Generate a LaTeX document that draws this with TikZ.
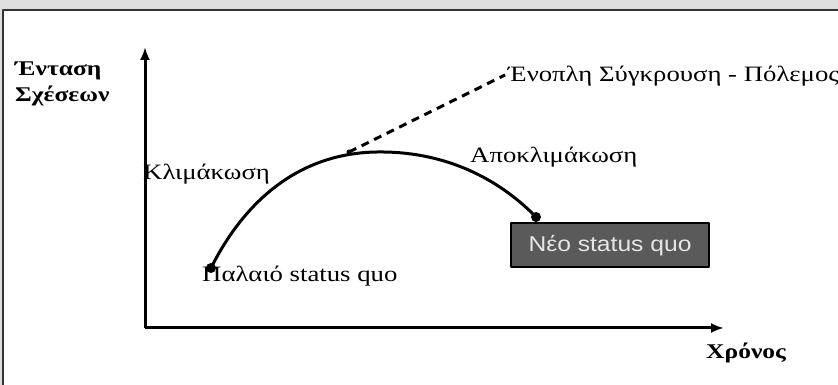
\documentclass[tikz,border=0pt]{standalone}
\usepackage{fontspec}
\usetikzlibrary{arrows.meta}
\setmainfont{Liberation Serif}[FakeStretch=1.22]
\newfontfamily\boxfont{Liberation Sans}[FakeStretch=1.15]
\definecolor{framegray}{HTML}{DEDEDE}
\definecolor{boxgray}{HTML}{5A5A5A}
\definecolor{boxtext}{HTML}{E6E6E6}
\begin{document}
\begin{tikzpicture}[>={Latex[length=13bp,width=10bp]},line join=bevel,font=\fontsize{22}{26}\selectfont]
%%
\fill [framegray] (0bp,0bp) rectangle (838bp,385bp);
\useasboundingbox (0bp,0bp) rectangle (838bp,385bp);
\filldraw [fill=white,draw=black!80,line width=2bp] (2.5bp,-20bp) -- (2.5bp,374.5bp) -- (850bp,374.5bp);
\fill [white] (3.5bp,-20bp) rectangle (850bp,373.5bp);
  \coordinate (origin) at (145bp,57bp);
  \coordinate (y_end) at (145bp,338bp);
  \coordinate (x_end) at (724bp,57bp);
  \coordinate (old_sq) at (211bp,117bp);
  \coordinate (branch) at (349bp,233bp);
  \coordinate (peak) at (377bp,233bp);
  \coordinate (new_sq) at (536bp,168bp);
  \coordinate (war_end) at (505bp,310bp);
  \node (node_tension) at (15bp,323bp) [anchor=north west,inner sep=0pt,align=left,font=\fontsize{21}{26}\selectfont\bfseries] {Ένταση\\Σχέσεων};
  \node (node_time) at (706bp,27bp) [anchor=base west,inner sep=0pt,font=\fontsize{21}{26}\selectfont\bfseries] {Χρόνος};
  \node (node_esc) at (143bp,205bp) [anchor=base west,inner sep=0pt] {Κλιμάκωση};
  \node (node_deesc) at (470bp,222bp) [anchor=base west,inner sep=0pt] {Αποκλιμάκωση};
  \node (node_war) at (508bp,303bp) [anchor=base west,inner sep=0pt] {Ένοπλη Σύγκρουση - Πόλεμος};
  \node (node_old) at (202bp,103bp) [anchor=base west,inner sep=0pt] {Παλαιό status quo};
  \node (node_new) at (610bp,139.5bp) [draw=black,line width=2bp,fill=boxgray,text=boxtext,minimum width=198bp,minimum height=44bp,inner sep=0pt,font=\boxfont\fontsize{21.5}{26}\selectfont] {Νέο status quo};
  \draw [black,line width=3bp,->] (origin) -- (y_end);
  \draw [black,line width=3bp,->] (origin) -- (x_end);
  \draw [black,line width=3bp,dash pattern=on 8bp off 6bp] (branch) -- (war_end);
  \draw [black,line width=3bp] (old_sq) ..controls (245bp,185bp) and (300bp,232bp) .. (peak) ..controls (440bp,234bp) and (495bp,210bp) .. (new_sq);
  \fill [black] (old_sq) circle (5bp);
  \fill [black] (new_sq) circle (5bp);
  \fill [black] (branch) circle (2.5bp);
%
\end{tikzpicture}
\end{document}
